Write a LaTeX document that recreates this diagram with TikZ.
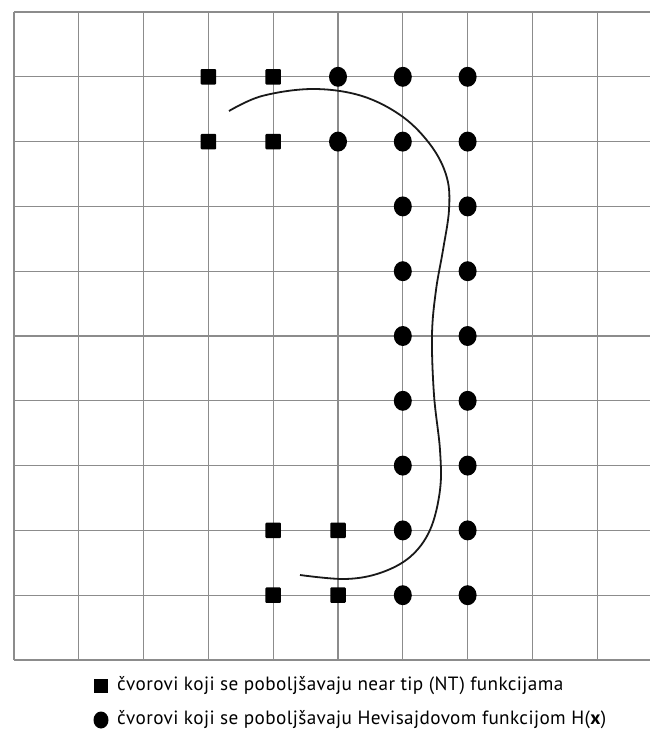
\documentclass[tikz,border=0pt]{standalone}
\usepackage{fontspec}
\setmainfont[LetterSpace=2]{PT Sans}
\usetikzlibrary{shapes.geometric}
\begin{document}
\begin{tikzpicture}[x=1pt,y=-1pt,
  gridline/.style={draw=black!45,line width=1.3pt},
  sqnode/.style={fill=black,minimum size=15.5pt,inner sep=0pt,rounded corners=1pt},
  cnode/.style={fill=black,ellipse,minimum width=18pt,minimum height=20pt,inner sep=0pt},
  legsq/.style={fill=black,minimum size=14pt,inner sep=0pt},
  legc/.style={fill=black,ellipse,minimum width=15pt,minimum height=17pt,inner sep=0pt},
  legtext/.style={anchor=west,inner sep=0pt,font=\fontsize{19.2}{21}\selectfont},
  curve/.style={draw=black!90,line width=1.8pt}]
\useasboundingbox (0,0) rectangle (650,736);
% grid
\foreach \i in {0,...,9} \draw[gridline] ({14+\i*64.8},12) -- ({14+\i*64.8},660);
\foreach \j in {0,...,10} \draw[gridline] (14,{12+\j*64.8}) -- (650,{12+\j*64.8});
% squares
\foreach \c/\r in {3/1,4/1,3/2,4/2,4/8,5/8,4/9,5/9}
  \node[sqnode] (s\c-\r) at ({14+\c*64.8},{12+\r*64.8}) {};
% circles
\foreach \c/\r in {5/1,6/1,7/1,5/2,6/2,7/2,6/3,7/3,6/4,7/4,6/5,7/5,6/6,7/6,6/7,7/7,6/8,7/8,6/9,7/9}
  \node[cnode] (c\c-\r) at ({14+\c*64.8},{12+\r*64.8}) {};
% curve
\draw[curve] plot[smooth,tension=0.6] coordinates {(229,111) (262,96) (313,89) (362,96) (403,117) (432,147) (447,178) (449,210) (443,250) (436,290) (432,335) (434,395) (440,450) (440,490) (430,530) (410,557) (380,573) (345,579) (300,575)};
% legend
\node[legsq] (lsq) at (101,686) {};
\node[legtext] (lt1) at (117,686) {čvorovi koji se poboljšavaju near tip (NT) funkcijama};
\node[legc] (lc) at (101,720) {};
\node[legtext] (lt2) at (117,720) {čvorovi koji se poboljšavaju Hevisajdovom funkcijom H(\textbf{x})};
\end{tikzpicture}
\end{document}
